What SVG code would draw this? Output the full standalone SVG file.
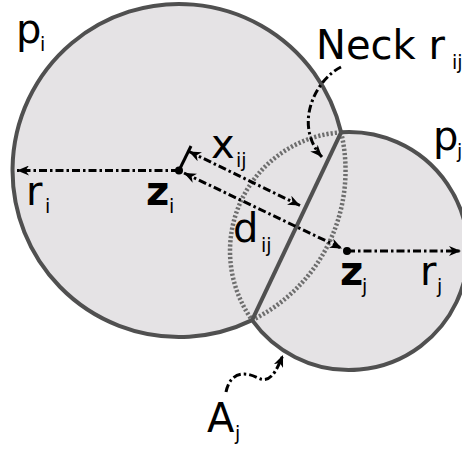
<svg xmlns="http://www.w3.org/2000/svg" width="462" height="451" viewBox="0 0 462 451">
<style>
.t{font-family:"DejaVu Sans",sans-serif;font-size:40px;fill:#000}
.b{font-weight:bold}
.s{font-size:19px;font-weight:normal}
.outline{fill:none;stroke:#505050;stroke-width:4;stroke-linejoin:miter}
.dot{fill:none;stroke:#6e6e6e;stroke-width:4.5;stroke-dasharray:2.2 2}
.da{fill:none;stroke:#000;stroke-width:3;stroke-dasharray:8 3 2.5 3}
</style>
<defs>
<marker id="ah" markerUnits="userSpaceOnUse" markerWidth="13" markerHeight="10" refX="12" refY="5" orient="auto-start-reverse" viewBox="0 0 13 10">
<path d="M0,0 L12,5 L0,10 L3.5,5 z" fill="#000"/>
</marker>
</defs>
<g id="cells">
<path id="union" d="M341.1,132.3 A166.5,166.5 0 1 0 252.1,320.1 A119,119 0 1 0 341.1,132.3 Z" fill="#e5e3e5"/>
<path id="inner-arc-i" class="dot" d="M341.1,132.3 A166.5,166.5 0 0 1 252.1,320.1"/>
<path id="inner-arc-j" class="dot" d="M341.1,132.3 A119,119 0 0 0 252.1,320.1"/>
<line id="neck" x1="341.1" y1="132.3" x2="252.1" y2="320.1" stroke="#505050" stroke-width="4"/>
<path id="outline" class="outline" d="M341.1,132.3 A166.5,166.5 0 1 0 252.1,320.1 A119,119 0 1 0 341.1,132.3"/>
</g>
<g id="connectors">
<line class="da" x1="179" y1="170.5" x2="17" y2="170.5" marker-end="url(#ah)"/>
<line class="da" x1="347" y1="251" x2="461" y2="251" marker-end="url(#ah)"/>
<line class="da" x1="184" y1="173" x2="342" y2="248.5" marker-start="url(#ah)" marker-end="url(#ah)"/>
<line x1="179" y1="170.5" x2="191" y2="146" stroke="#000" stroke-width="3"/>
<line class="da" x1="189" y1="151.5" x2="300" y2="205.5" marker-start="url(#ah)" marker-end="url(#ah)"/>
<path class="da" d="M341,67 C315,80 293,125 322,157" marker-end="url(#ah)"/>
<path class="da" d="M226,392 C230,372 245,371 258,378 C270,384 276,372 283,355" marker-end="url(#ah)"/>
<circle cx="179" cy="170.5" r="4" fill="#000"/>
<circle cx="347" cy="251" r="4" fill="#000"/>
</g>
<g id="labels">
<text class="t" x="16" y="43">p<tspan class="s" x="40" y="51">i</tspan></text>
<text class="t" x="316" y="59">Neck r<tspan class="s" x="452" y="69">ij</tspan></text>
<text class="t" x="433" y="150">p<tspan class="s" x="457" y="158">j</tspan></text>
<text class="t" x="26" y="205">r<tspan class="s" x="45" y="213">i</tspan></text>
<text class="t b" x="146" y="205">z<tspan class="s" x="169" y="213">i</tspan></text>
<text class="t" x="211" y="158">x<tspan class="s" x="236" y="167">ij</tspan></text>
<text class="t" x="233" y="242">d<tspan class="s" x="261" y="252">ij</tspan></text>
<text class="t b" x="340" y="285">z<tspan class="s" x="362" y="293">j</tspan></text>
<text class="t" x="420" y="285">r<tspan class="s" x="437" y="293">j</tspan></text>
<text class="t" x="207" y="432">A<tspan class="s" x="235" y="440">j</tspan></text>
</g>
</svg>
